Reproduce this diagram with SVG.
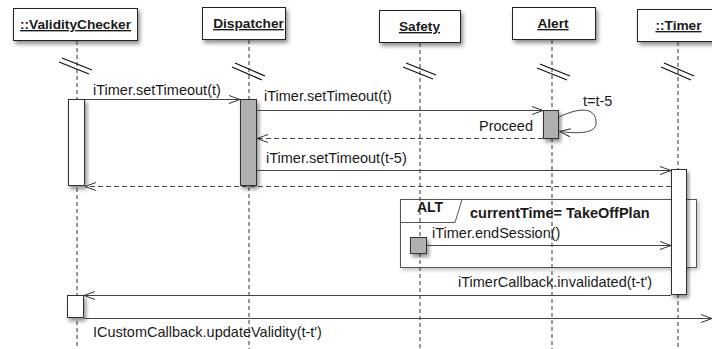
<svg xmlns="http://www.w3.org/2000/svg" width="712" height="349" viewBox="0 0 712 349">
<defs>
<filter id="sh" x="-20%" y="-20%" width="150%" height="150%">
<feDropShadow dx="2" dy="3" stdDeviation="2" flood-color="#000" flood-opacity="0.45"/>
</filter>
<filter id="sh2" x="-5%" y="-10%" width="110%" height="130%">
<feDropShadow dx="2" dy="2" stdDeviation="2" flood-color="#000" flood-opacity="0.25"/>
</filter>
<marker id="ah" markerUnits="userSpaceOnUse" markerWidth="12" markerHeight="10" refX="11" refY="4.5" orient="auto" viewBox="0 0 12 10">
<path d="M0,0.5 L11,4.5 L0,8.5" fill="none" stroke="#333" stroke-width="1"/>
</marker>
</defs>
<style>
text{font-family:"Liberation Sans",Arial,Helvetica,sans-serif;fill:#1a1a1a}
.hd{font-weight:bold;font-size:13.7px;text-anchor:middle;text-decoration:underline}
.lb{font-size:14.5px}
.box{fill:#fff;stroke:#222;stroke-width:1;filter:url(#sh)}
.life{stroke:#333;stroke-width:1;stroke-dasharray:4 3;fill:none}
.brk{stroke:#111;stroke-width:1.3;fill:none}
.bw{fill:#fff;stroke:#333;stroke-width:1;filter:url(#sh)}
.bg{fill:#b0b0b0;stroke:#333;stroke-width:1;filter:url(#sh)}
.msg{stroke:#444;stroke-width:1;fill:none;marker-end:url(#ah)}
.ret{stroke:#444;stroke-width:1;fill:none;stroke-dasharray:5 3;marker-end:url(#ah)}
</style>
<g id="alt-frame">
<rect x="400.5" y="199.5" width="296" height="68" fill="#fff" stroke="#555" stroke-width="1" filter="url(#sh2)"/>
<path d="M400.5,222.5 H455 L462,199.5" fill="none" stroke="#555" stroke-width="1"/>
<text x="417" y="212" style="font-weight:bold;font-size:14px">ALT</text>
<text x="470" y="218" style="font-weight:bold;font-size:14.5px">currentTime= TakeOffPlan</text>
</g>
<g id="validity-checker">
<rect class="box" x="13.5" y="8.5" width="124" height="32"/>
<text class="hd" x="75.5" y="29">::ValidityChecker</text>
<line class="life" x1="77" y1="41" x2="77" y2="349"/>
<path class="brk" d="M59,62 L89,74 M62,58 L92,70"/>
<rect class="bw" x="68.5" y="99.5" width="16" height="86"/>
<rect class="bw" x="67.5" y="295.5" width="16" height="22"/>
</g>
<g id="dispatcher">
<rect class="box" x="202.5" y="7.5" width="83" height="32"/>
<text class="hd" x="248.5" y="28">Dispatcher</text>
<line class="life" x1="249" y1="40" x2="249" y2="349"/>
<path class="brk" d="M232,67 L262,80 M235,63 L265,76"/>
<rect class="bg" x="240.5" y="99.5" width="16" height="86"/>
</g>
<g id="safety">
<rect class="box" x="379.5" y="10.5" width="81" height="32"/>
<text class="hd" x="419.5" y="31">Safety</text>
<line class="life" x1="420" y1="43" x2="420" y2="349"/>
<path class="brk" d="M403,67 L433,79 M406,63 L436,75"/>
<rect class="bg" x="410.5" y="237.5" width="16" height="16"/>
</g>
<g id="alert">
<rect class="box" x="512.5" y="7.5" width="83" height="32"/>
<text class="hd" x="553" y="28">Alert</text>
<line class="life" x1="552" y1="40" x2="552" y2="349"/>
<path class="brk" d="M537,68 L567,80 M540,64 L570,76"/>
<rect class="bg" x="543.5" y="110.5" width="15" height="28"/>
</g>
<g id="timer">
<rect class="box" x="637.5" y="9.5" width="82" height="32"/>
<text class="hd" x="678.5" y="30">::Timer</text>
<line class="life" x1="678" y1="42" x2="678" y2="349"/>
<path class="brk" d="M661,67 L691,80 M664,63 L694,76"/>
<rect class="bw" x="671.5" y="169.5" width="15" height="125"/>
</g>
<g id="connectors">
<line class="msg" x1="85" y1="99.5" x2="240" y2="99.5"/>
<text class="lb" x="93" y="95">iTimer.setTimeout(t)</text>
<line class="msg" x1="257" y1="110.5" x2="543" y2="110.5"/>
<text class="lb" x="264" y="101">iTimer.setTimeout(t)</text>
<path class="msg" d="M559,117 C582,106 597,108 596,124 C595,133 580,134 559.5,131.5"/>
<text class="lb" x="583" y="106">t=t-5</text>
<line class="ret" x1="543" y1="138.5" x2="257" y2="138.5"/>
<text class="lb" x="533" y="131" text-anchor="end">Proceed</text>
<line class="msg" x1="257" y1="170.5" x2="671" y2="170.5"/>
<text class="lb" x="266" y="163">iTimer.setTimeout(t-5)</text>
<line class="ret" x1="671" y1="186.5" x2="85" y2="186.5"/>
<line class="msg" x1="427" y1="245.5" x2="671" y2="245.5"/>
<text class="lb" x="432" y="238">iTimer.endSession()</text>
<line class="msg" x1="671" y1="295.5" x2="84" y2="295.5"/>
<text class="lb" x="458" y="287">iTimerCallback.invalidated(t-t')</text>
<line class="msg" x1="84" y1="318.5" x2="712" y2="318.5"/>
<text class="lb" x="93" y="337">ICustomCallback.updateValidity(t-t')</text>
</g>
</svg>
